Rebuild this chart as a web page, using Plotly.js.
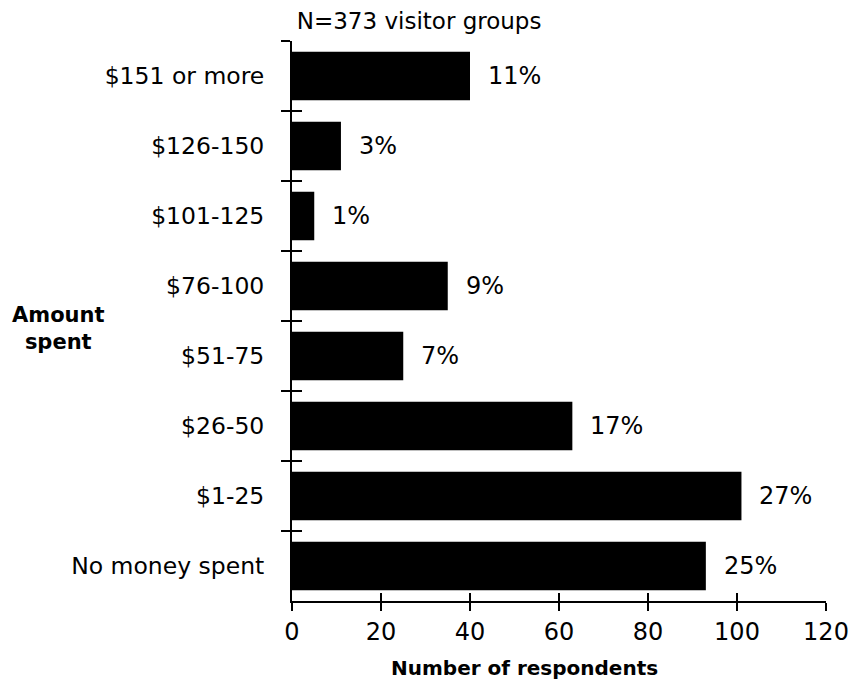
<!DOCTYPE html>
<html>
<head>
<meta charset="utf-8">
<script src="https://cdn.plot.ly/plotly-3.0.1.min.js"></script>
<style>html,body{margin:0;padding:0;background:#fff;}#chart{width:851px;height:687px;}</style>
</head>
<body>
<div id="chart"></div>
<script>
// Data (top to bottom as in the chart)
const categories = ["$151 or more", "$126-150", "$101-125", "$76-100", "$51-75", "$26-50", "$1-25", "No money spent"];
const respondents = [40, 11, 5, 35, 25, 63, 101, 93];
const percentLabels = ["11%", "3%", "1%", "9%", "7%", "17%", "27%", "25%"];
const xTickStep = 20;
const xMax = 120;

const FONT = "DejaVu Sans, Verdana, sans-serif";

const bars = {
  type: "bar",
  orientation: "h",
  x: respondents,
  y: categories,
  width: 0.69,
  marker: {color: "#000000", line: {width: 0}},
  hoverinfo: "skip",
  showlegend: false
};

const pctAnnotations = categories.map((c, i) => ({
  x: respondents[i], y: c, xref: "x", yref: "y",
  text: percentLabels[i], showarrow: false,
  xanchor: "left", yanchor: "middle", xshift: 16,
  font: {family: FONT, size: 24, color: "#000"}
}));

const layout = {
  width: 851, height: 687,
  margin: {l: 292, r: 25, t: 41, b: 86},
  paper_bgcolor: "#fff", plot_bgcolor: "#fff",
  showlegend: false,
  title: {
    text: "N=373 visitor groups",
    font: {family: FONT, size: 23, color: "#000"},
    xref: "paper", x: 0.238, xanchor: "center",
    yref: "container", y: 0.969, yanchor: "middle"
  },
  xaxis: {
    range: [0, xMax], dtick: xTickStep, tick0: 0, tickmode: "linear",
    showgrid: false, zeroline: false,
    showline: true, linecolor: "#000", linewidth: 2,
    ticks: "outside", ticklen: 8, tickwidth: 2, tickcolor: "#000",
    tickfont: {family: FONT, size: 24, color: "#000"},
    fixedrange: true
  },
  xaxis2: {
    overlaying: "x", anchor: "y", side: "bottom",
    range: [0, xMax], dtick: xTickStep, tick0: 0, tickmode: "linear",
    showgrid: false, zeroline: false, showline: false,
    ticks: "inside", ticklen: 8, tickwidth: 2, tickcolor: "#000",
    showticklabels: false, fixedrange: true
  },
  yaxis: {
    type: "category",
    range: [categories.length - 0.5, -0.5],
    tickson: "boundaries",
    showgrid: false, zeroline: false,
    showline: true, linecolor: "#000", linewidth: 2,
    ticks: "outside", ticklen: 9, tickwidth: 2, tickcolor: "#000",
    ticklabelstandoff: 21,
    tickfont: {family: FONT, size: 23.5, color: "#000"},
    fixedrange: true
  },
  yaxis2: {
    overlaying: "y", anchor: "x", side: "left",
    type: "linear",
    range: [categories.length - 0.5, -0.5],
    tickmode: "linear", tick0: -0.5, dtick: 1,
    showgrid: false, zeroline: false, showline: false,
    ticks: "inside", ticklen: 10, tickwidth: 2, tickcolor: "#000",
    showticklabels: false, fixedrange: true
  },
  annotations: pctAnnotations.concat([
    {
      text: "<b>Amount</b><br><b>spent</b>", showarrow: false,
      xref: "paper", yref: "paper", x: -0.438, y: 0.4875,
      xanchor: "center", yanchor: "middle", align: "center",
      font: {family: FONT, size: 21, color: "#000"}
    },
    {
      text: "<b>Number of respondents</b>", showarrow: false,
      xref: "paper", yref: "paper", x: 0.436, y: -0.12,
      xanchor: "center", yanchor: "middle",
      font: {family: FONT, size: 20, color: "#000"}
    }
  ])
};

// Invisible helper traces so the overlay axes are drawn
const helperX = {type: "scatter", x: [0], y: [0], xaxis: "x2", yaxis: "y", mode: "markers", marker: {opacity: 0}, hoverinfo: "skip", showlegend: false};
const helperY = {type: "scatter", x: [0], y: [0], xaxis: "x", yaxis: "y2", mode: "markers", marker: {opacity: 0}, hoverinfo: "skip", showlegend: false};

Plotly.newPlot("chart", [bars, helperX, helperY], layout, {displayModeBar: false, staticPlot: true});
</script>
</body>
</html>
